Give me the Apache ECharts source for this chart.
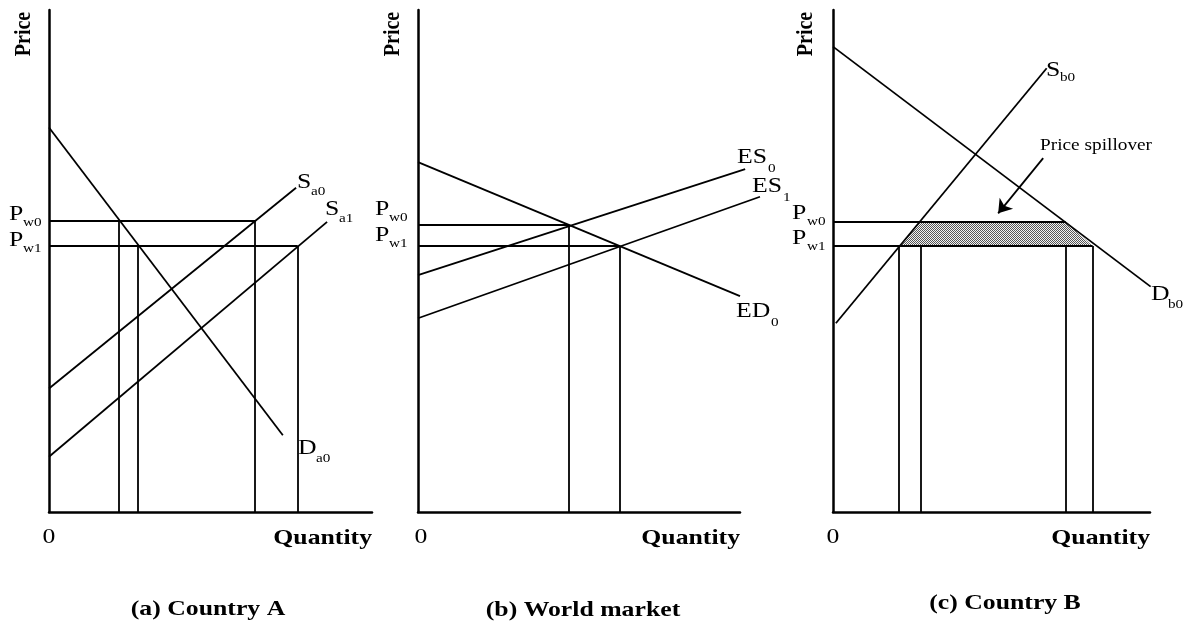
<!DOCTYPE html>
<html>
<head>
<meta charset="utf-8">
<script src="https://cdn.jsdelivr.net/npm/echarts@6/dist/echarts.min.js"></script>
<style>
html,body{margin:0;padding:0;background:#fff;}
#chart{width:1185px;height:624px;}
</style>
</head>
<body>
<div id="chart"></div>
<script>
// ---------- Data (arbitrary schematic units, 0-100 on each axis) ----------
// Panel (a) Country A
const aDemand = [[0, 76.6], [72.4, 15.3]];
const aSupply0 = [[0, 24.6], [76.5, 64.6]];
const aSupply1 = [[0, 11.0], [86.1, 57.8]];
const aPrices = [58.0, 53.0];            // Pw0, Pw1
const aQtyPw0 = [21.7, 63.8];            // demand, supply at Pw0
const aQtyPw1 = [27.6, 77.0];            // demand, supply at Pw1

// Panel (b) World market
const bExcessDemand = [[0, 69.7], [100, 43.0]];
const bExcessSupply0 = [[0, 47.2], [101.6, 68.3]];
const bExcessSupply1 = [[0, 38.6], [106.2, 62.8]];
const bPrices = [57.2, 53.0];
const bQty = [46.9, 62.6];               // traded at Pw0, Pw1

// Panel (c) Country B
const cDemand = [[0, 92.7], [100.2, 44.9]];
const cSupply = [[0.9, 37.6], [67.4, 88.4]];
const cPrices = [57.8, 53.0];
const cQtyPw0 = [27.6, 73.4];            // supply, demand at Pw0
const cQtyPw1 = [20.8, 81.9];            // supply, demand at Pw1
const cSpillover = [[27.6, 57.8], [73.4, 57.8], [81.9, 53.0], [20.8, 53.0]];
const cArrow = [[66.3, 70.5], [52.1, 59.5]];

// Tick / label texts
const axisNames = {price: 'Price', qty: 'Quantity', zero: '0'};
const panelTitles = ['(a) Country A', '(b) World market', '(c) Country B'];

// ---------- Build ----------
const FONT = "'Liberation Serif', 'Times New Roman', serif";
const SX = 1.17;

function seg(p, q) { return {coords: [p, q]}; }

function lineSeries(idx, segs, extra) {
  return Object.assign({
    type: 'lines', coordinateSystem: 'cartesian2d',
    xAxisIndex: idx, yAxisIndex: idx, clip: false, silent: true,
    symbol: 'none',
    lineStyle: {color: '#000', width: 1.8, opacity: 1, curveness: 0},
    data: segs
  }, extra || {});
}

const grids = [
  {left: 49, top: 10, width: 323, height: 502},
  {left: 418, top: 10, width: 322, height: 502},
  {left: 833, top: 10, width: 317, height: 502}
];
const axisCommon = {
  type: 'value', min: 0, max: 100,
  axisLine: {show: true, onZero: false, lineStyle: {color: '#000', width: 2.5}},
  axisTick: {show: false}, axisLabel: {show: false}, splitLine: {show: false}
};
const xAxes = grids.map((g, i) => Object.assign({gridIndex: i}, axisCommon));
const yAxes = grids.map((g, i) => Object.assign({gridIndex: i}, axisCommon));

// Panel A segments
const aSegs = [
  seg(aDemand[0], aDemand[1]),
  seg(aSupply0[0], aSupply0[1]),
  seg(aSupply1[0], aSupply1[1]),
  seg([0, aPrices[0]], [aQtyPw0[1], aPrices[0]]),
  seg([0, aPrices[1]], [aQtyPw1[1], aPrices[1]]),
  seg([aQtyPw0[0], aPrices[0]], [aQtyPw0[0], 0]),
  seg([aQtyPw0[1], aPrices[0]], [aQtyPw0[1], 0]),
  seg([aQtyPw1[0], aPrices[1]], [aQtyPw1[0], 0]),
  seg([aQtyPw1[1], aPrices[1]], [aQtyPw1[1], 0])
];
// Panel B segments
const bSegs = [
  seg(bExcessDemand[0], bExcessDemand[1]),
  seg(bExcessSupply0[0], bExcessSupply0[1]),
  seg(bExcessSupply1[0], bExcessSupply1[1]),
  seg([0, bPrices[0]], [bQty[0], bPrices[0]]),
  seg([0, bPrices[1]], [bQty[1], bPrices[1]]),
  seg([bQty[0], bPrices[0]], [bQty[0], 0]),
  seg([bQty[1], bPrices[1]], [bQty[1], 0])
];
// Panel C segments
const cSegs = [
  seg(cDemand[0], cDemand[1]),
  seg(cSupply[0], cSupply[1]),
  seg([0, cPrices[0]], [cQtyPw0[1], cPrices[0]]),
  seg([0, cPrices[1]], [cQtyPw1[1], cPrices[1]]),
  seg([cQtyPw1[0], cPrices[1]], [cQtyPw1[0], 0]),
  seg([cQtyPw0[0], cPrices[1]], [cQtyPw0[0], 0]),
  seg([cQtyPw0[1], cPrices[1]], [cQtyPw0[1], 0]),
  seg([cQtyPw1[1], cPrices[1]], [cQtyPw1[1], 0])
];

// stipple pattern for the shaded area
const pat = document.createElement('canvas');
pat.width = 2; pat.height = 2;
const pctx = pat.getContext('2d');
pctx.fillStyle = '#f2f2f2'; pctx.fillRect(0, 0, 2, 2);
pctx.fillStyle = '#555555'; pctx.fillRect(0, 0, 1, 1); pctx.fillRect(1, 1, 1, 1);

const series = [
  {
    type: 'custom', coordinateSystem: 'cartesian2d', xAxisIndex: 2, yAxisIndex: 2,
    silent: true, z: 1, data: [[0, 0]],
    renderItem: function (params, api) {
      return {
        type: 'polygon',
        shape: {points: cSpillover.map(p => api.coord(p))},
        style: {fill: {image: pat, repeat: 'repeat'}, stroke: null}
      };
    }
  },
  lineSeries(0, aSegs, {z: 3}),
  lineSeries(1, bSegs, {z: 3}),
  lineSeries(2, cSegs, {z: 3}),
  lineSeries(2, [seg(cArrow[0], cArrow[1])], {
    z: 4, symbol: ['none', 'arrow'], symbolSize: [11, 13],
    lineStyle: {color: '#000', width: 1.8, opacity: 1, curveness: 0}
  })
];

// ---------- Text (stretched horizontally like the reference) ----------
function txt(x, y, s, size, opt) {
  opt = opt || {};
  return {
    type: 'text', x: x, y: y, silent: true, z: 10,
    scaleX: opt.rot ? 1 : SX, scaleY: opt.rot ? SX : 1,
    rotation: opt.rot ? Math.PI / 2 : 0,
    style: {
      text: s, fill: '#000',
      font: (opt.bold ? 'bold ' : '') + size + 'px ' + FONT,
      textAlign: opt.align || 'left', textVerticalAlign: 'middle',
      align: opt.align || 'left', verticalAlign: 'middle'
    }
  };
}
function sub(x, y, main, s, size, subSize, dx, dy) {
  return [txt(x, y, main, size), txt(x + dx, y + dy, s, subSize)];
}

const M = 22, S = 13, T = 22;
const graphics = [].concat(
  // Panel A
  txt(24, 34, axisNames.price, 20, {bold: true, align: 'center', rot: true}),
  sub(9, 214, 'P', 'w0', M, S, 14, 9),
  sub(9, 240, 'P', 'w1', M, S, 14, 9),
  sub(297, 182, 'S', 'a0', M, S, 14, 10),
  sub(325, 209, 'S', 'a1', M, S, 14, 10),
  sub(298, 448, 'D', 'a0', M, S, 18, 11),
  txt(49, 537, axisNames.zero, M, {align: 'center'}),
  txt(372, 538, axisNames.qty, M, {bold: true, align: 'right'}),
  txt(208, 609, panelTitles[0], T, {bold: true, align: 'center'}),
  // Panel B
  txt(393, 34, axisNames.price, 20, {bold: true, align: 'center', rot: true}),
  sub(375, 209, 'P', 'w0', M, S, 14, 9),
  sub(375, 235, 'P', 'w1', M, S, 14, 9),
  sub(737, 157, 'ES', '0', M, S, 31, 12),
  sub(752, 186, 'ES', '1', M, S, 31, 12),
  sub(736, 311, 'ED', '0', M, S, 35, 12),
  txt(421, 537, axisNames.zero, M, {align: 'center'}),
  txt(740, 538, axisNames.qty, M, {bold: true, align: 'right'}),
  txt(583, 610, panelTitles[1], T, {bold: true, align: 'center'}),
  // Panel C
  txt(806, 34, axisNames.price, 20, {bold: true, align: 'center', rot: true}),
  sub(792, 213, 'P', 'w0', M, S, 15, 9),
  sub(792, 238, 'P', 'w1', M, S, 15, 9),
  sub(1046, 70, 'S', 'b0', M, S, 14, 8),
  sub(1151, 294, 'D', 'b0', M, S, 17, 11),
  txt(833, 537, axisNames.zero, M, {align: 'center'}),
  txt(1150, 538, axisNames.qty, M, {bold: true, align: 'right'}),
  txt(1040, 146, 'Price spillover', 16.5),
  txt(1005, 603, panelTitles[2], T, {bold: true, align: 'center'})
);

const chart = echarts.init(document.getElementById('chart'), null, {renderer: 'canvas'});
chart.setOption({
  animation: false,
  backgroundColor: '#fff',
  grid: grids,
  xAxis: xAxes,
  yAxis: yAxes,
  series: series,
  graphic: graphics
});
</script>
</body>
</html>
